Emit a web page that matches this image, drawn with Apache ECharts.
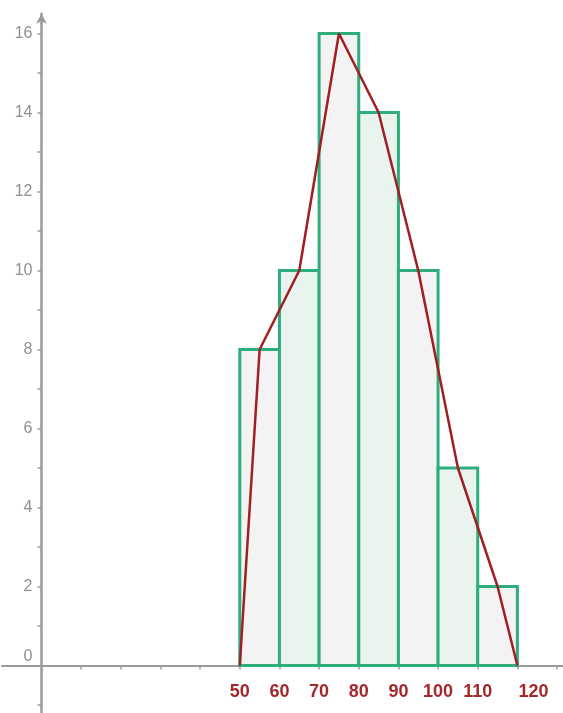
<!DOCTYPE html>
<html><head><meta charset="utf-8">
<script src="https://cdn.jsdelivr.net/npm/echarts@6/dist/echarts.min.js"></script>
<style>html,body{margin:0;padding:0;background:#fff}#c{width:563px;height:713px}</style>
</head><body><div id="c"></div>
<script>
// Histogram data
const binEdges = [50, 60, 70, 80, 90, 100, 110, 120];
const frequencies = [8, 10, 16, 14, 10, 5, 2];
const xTickLabels = [50, 60, 70, 80, 90, 100, 110, 120];
const yTickLabels = [0, 2, 4, 6, 8, 10, 12, 14, 16];

const barFills = ['#f3f3f3', '#eaf4ee'];

const bars = frequencies.map((f, i) => [binEdges[i], binEdges[i + 1], f]);
const polygon = [[binEdges[0], 0]]
  .concat(frequencies.map((f, i) => [(binEdges[i] + binEdges[i + 1]) / 2, f]))
  .concat([[binEdges[binEdges.length - 1], 0]]);

const chart = echarts.init(document.getElementById('c'), null, {renderer: 'canvas'});
const axisGray = '#9a9a9a';
const labelFont = 'Liberation Sans, Arial, sans-serif';
chart.setOption({
  animation: false,
  backgroundColor: '#ffffff',
  grid: {left: 1.85, right: 0, top: 13.75, bottom: -31.5, containLabel: false, outerBoundsMode: 'none'},
  xAxis: {
    type: 'value', min: -10, max: 131.5, interval: 10,
    position: 'bottom', offset: -79,
    splitLine: {show: false},
    axisLine: {onZero: false, lineStyle: {color: axisGray, width: 2}},
    axisTick: {show: true, length: 4, inside: false, lineStyle: {color: axisGray, width: 1.5}},
    axisLabel: {
      interval: 0, showMaxLabel: false, showMinLabel: false,
      margin: 18,
      color: '#a3282b', fontSize: 18, fontWeight: 'bold', fontFamily: labelFont,
      formatter: v => xTickLabels.includes(v) ? (v === 120 ? '{s|120}' : String(v)) : '',
      rich: {s: {color: '#a3282b', fontSize: 18, fontWeight: 'bold', fontFamily: labelFont, padding: [0, 0, 0, 32]}}
    }
  },
  yAxis: {
    type: 'value', min: -2, max: 16.5, interval: 1,
    position: 'left', offset: -39.65,
    splitLine: {show: false},
    axisLine: {onZero: false, symbol: ['none', 'arrow'], symbolSize: [8, 10], lineStyle: {color: axisGray, width: 2.5}},
    axisTick: {show: true, length: 4, lineStyle: {color: axisGray, width: 1.5}},
    axisLabel: {
      interval: 0, showMaxLabel: false,
      margin: 9,
      color: '#909090', fontSize: 16, fontFamily: labelFont,
      formatter: v => yTickLabels.includes(v) ? (v === 0 ? '{z|0}' : String(v)) : '',
      rich: {z: {color: '#909090', fontSize: 16, fontFamily: labelFont, padding: [0, 0, 18, 0]}}
    }
  },
  series: [
    {
      type: 'custom',
      data: bars,
      encode: {x: [0, 1], y: 2},
      z: 2,
      renderItem: function (params, api) {
        const p0 = api.coord([api.value(0), 0]);
        const p1 = api.coord([api.value(1), api.value(2)]);
        return {
          type: 'rect',
          shape: {x: p0[0], y: p1[1], width: p1[0] - p0[0], height: p0[1] - p1[1]},
          style: {fill: barFills[params.dataIndex % 2], stroke: '#2fae7d', lineWidth: 3}
        };
      }
    },
    {
      type: 'line',
      data: polygon,
      z: 3,
      symbol: 'none',
      lineStyle: {color: '#a11e23', width: 2.5},
      itemStyle: {color: '#a11e23'}
    }
  ]
});
</script></body></html>
